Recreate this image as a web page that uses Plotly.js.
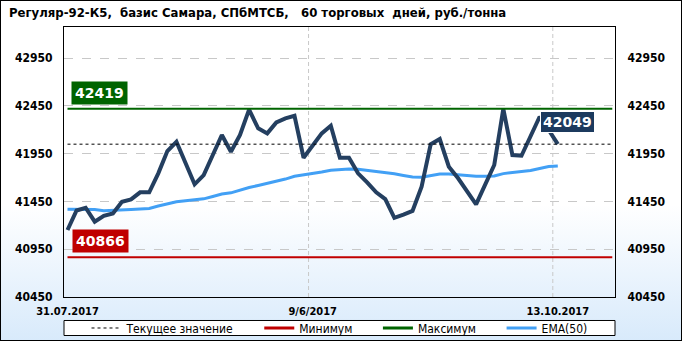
<!DOCTYPE html>
<html><head><meta charset="utf-8">
<script src="https://cdn.plot.ly/plotly-3.0.1.min.js"></script>
<style>
html,body{margin:0;padding:0;background:#fff;}
#wrap{position:relative;width:682px;height:341px;background:linear-gradient(180deg,#ffffff 0%,#ffffff 60%,#d8eafb 100%);}
#chart{width:682px;height:341px;}
#frame{position:absolute;left:0;top:0;width:682px;height:341px;box-sizing:border-box;border:1px solid #000;pointer-events:none;}
</style></head><body>
<div id="wrap"><div id="chart"></div><div id="frame"></div></div>
<script>
const dates = ['31.07.2017',
 '01.08.2017','02.08.2017','03.08.2017','04.08.2017','07.08.2017','08.08.2017','09.08.2017','10.08.2017','11.08.2017',
 '14.08.2017','15.08.2017','16.08.2017','17.08.2017','18.08.2017','21.08.2017','22.08.2017','23.08.2017','24.08.2017','25.08.2017',
 '28.08.2017','29.08.2017','30.08.2017','31.08.2017',
 '01.09.2017','04.09.2017','05.09.2017','06.09.2017','07.09.2017','08.09.2017','11.09.2017','12.09.2017','13.09.2017','14.09.2017','15.09.2017',
 '18.09.2017','19.09.2017','20.09.2017','21.09.2017','22.09.2017','25.09.2017','26.09.2017','27.09.2017','28.09.2017','29.09.2017',
 '02.10.2017','03.10.2017','04.10.2017','05.10.2017','06.10.2017','09.10.2017','10.10.2017','11.10.2017','12.10.2017','13.10.2017'];
const price = [41151, 41355, 41384, 41238, 41300, 41325, 41447, 41472, 41545, 41545,
 41744, 41977, 42074, 41852, 41629, 41726, 41935, 42145, 41970, 42145,
 42410, 42215, 42162, 42277, 42319, 42346, 41907, 42040, 42162, 42242,
 41907, 41907, 41744, 41650, 41545, 41475, 41279, 41313, 41350, 41604,
 42047, 42103, 41813, 41695, 41559, 41420, 41626, 41831, 42419, 41935,
 41928, 42134, 42336, 42197, 42049];
const ema50 = [41367, 41368, 41370, 41365, 41353, 41355, 41358, 41365, 41370, 41377,
 41402, 41428, 41446, 41456, 41469, 41477, 41501, 41527, 41540, 41569,
 41596, 41617, 41639, 41661, 41684, 41713, 41728, 41737, 41758, 41776,
 41784, 41789, 41787, 41776, 41766, 41752, 41739, 41721, 41705, 41702,
 41721, 41737, 41737, 41728, 41721, 41714, 41713, 41716, 41741, 41752,
 41758, 41774, 41795, 41816, 41821];
const currentValue = 42049;
const minValue = 40866;
const maxValue = 42419;
const windowDays = 60;
const yTicks = [40450, 40950, 41450, 41950, 42450, 42950];
const xTickDates = ['31.07.2017', '06.09.2017', '13.10.2017'];
const xTickText = ['31.07.2017', '9/6/2017', '13.10.2017'];
const xGridPos = [26.55, 53.45];
const legendNames = ['Текущее значение', 'Минимум', 'Максимум', 'EMA(50)'];
const titleText = 'Регуляр-92-К5,  базис Самара, СПбМТСБ,   60 торговых  дней, руб./тонна';

const FC = 'DejaVu Sans Condensed, DejaVu Sans, sans-serif';
const pad = '\u00a0\u00a0\u00a0\u00a0\u00a0\u00a0';
const C_DASH = '#000000', C_MIN = '#c00000', C_MAX = '#006400', C_EMA = '#42a0f5', C_PRICE = '#243f60';

const traces = [
  {x:[null], y:[null], mode:'lines', name:legendNames[0]+pad, line:{color:C_DASH, width:1, dash:'3px,3px'}, hoverinfo:'skip'},
  {x:[null], y:[null], mode:'lines', name:legendNames[1]+pad, line:{color:C_MIN, width:3}, hoverinfo:'skip'},
  {x:[null], y:[null], mode:'lines', name:legendNames[2]+pad, line:{color:C_MAX, width:3}, hoverinfo:'skip'},
  {x:dates, y:ema50, mode:'lines', name:legendNames[3], line:{color:C_EMA, width:3}},
  {x:dates, y:price, mode:'lines', name:'price', showlegend:false, line:{color:C_PRICE, width:4}},
  {x:dates, y:price, mode:'lines', yaxis:'y2', showlegend:false, opacity:0, line:{width:0}, hoverinfo:'skip'}
];

const shapes = [];
xGridPos.forEach(p => shapes.push({type:'line', xref:'x', yref:'paper', x0:p, x1:p, y0:0, y1:1, layer:'below', line:{color:'#c8c8c8', width:1, dash:'4px,3px'}}));
shapes.push({type:'line', xref:'x', yref:'y', x0:0, x1:windowDays, y0:currentValue, y1:currentValue, layer:'above', line:{color:C_DASH, width:1, dash:'3px,3px'}});
shapes.push({type:'line', xref:'x', yref:'y', x0:0, x1:windowDays, y0:minValue, y1:minValue, layer:'above', line:{color:C_MIN, width:2}});
shapes.push({type:'line', xref:'x', yref:'y', x0:0, x1:windowDays, y0:maxValue, y1:maxValue, layer:'above', line:{color:C_MAX, width:2}});
shapes.push({type:'rect', xref:'paper', yref:'paper', x0:0, x1:1, y0:-0.0870, y1:-0.1426, layer:'below', fillcolor:'#ffffff', line:{color:'#000', width:1}});

const annFont = {family:'DejaVu Sans, sans-serif', size:14, color:'#ffffff', weight:'bold'};
const annotations = [
  {x:0, y:maxValue, xref:'x', yref:'y', text:String(maxValue), showarrow:false, xanchor:'left', yanchor:'bottom', xshift:3, yshift:4, bgcolor:C_MAX, borderpad:3, font:annFont},
  {x:0, y:minValue, xref:'x', yref:'y', text:String(minValue), showarrow:false, xanchor:'left', yanchor:'bottom', xshift:4.5, yshift:4, bgcolor:C_MIN, borderpad:3, font:annFont},
  {x:dates.length-1, y:currentValue, xref:'x', yref:'y', text:String(currentValue), showarrow:false, xanchor:'center', yanchor:'bottom', xshift:10, yshift:11, bgcolor:'#1c3a5e', bordercolor:'#ffffff', borderwidth:1, borderpad:2, font:annFont}
];

const tickFontY = {family:FC, size:12, color:'#000', weight:'bold'};
const layout = {
  width:682, height:341,
  paper_bgcolor:'rgba(0,0,0,0)', plot_bgcolor:'rgba(0,0,0,0)',
  margin:{l:64, r:67, t:27, b:44, pad:0, autoexpand:false},
  title:{text:titleText.replace(/ {2}/g,'\u00a0 '), xref:'container', yref:'container', x:9/682, xanchor:'left', y:1-12.5/341, yanchor:'middle', font:{family:FC, size:13, color:'#000', weight:'bold'}},
  showlegend:true,
  legend:{orientation:'h', x:0.5, xanchor:'center', y:-0.1148, yanchor:'middle', bgcolor:'rgba(0,0,0,0)', borderwidth:0, font:{family:FC, size:12, color:'#000'}, traceorder:'normal'},
  xaxis:{type:'category', range:[-0.385, 60.3], tickvals:xTickDates, ticktext:xTickText, showgrid:false, zeroline:false,
         showline:true, mirror:true, linecolor:'#000', linewidth:1, ticks:'outside', ticklen:4, tickcolor:'rgba(0,0,0,0)',
         tickfont:{family:FC, size:11, color:'#000', weight:'bold'}, fixedrange:true},
  yaxis:{range:[40450, 43275], tickvals:yTicks, tickformat:'d', showgrid:true, griddash:'dash', gridcolor:'#c8c8c8', gridwidth:1, zeroline:false,
         showline:true, mirror:true, linecolor:'#000', linewidth:1, ticks:'outside', ticklen:8, tickcolor:'rgba(0,0,0,0)',
         tickfont:tickFontY, fixedrange:true},
  yaxis2:{overlaying:'y', side:'right', range:[40450, 43275], tickvals:yTicks, tickformat:'d', showgrid:false, zeroline:false, showline:false,
          ticks:'outside', ticklen:9, tickcolor:'rgba(0,0,0,0)', tickfont:tickFontY, fixedrange:true},
  shapes:shapes, annotations:annotations
};
Plotly.newPlot('chart', traces, layout, {displayModeBar:false, staticPlot:true});
</script>
</body></html>
